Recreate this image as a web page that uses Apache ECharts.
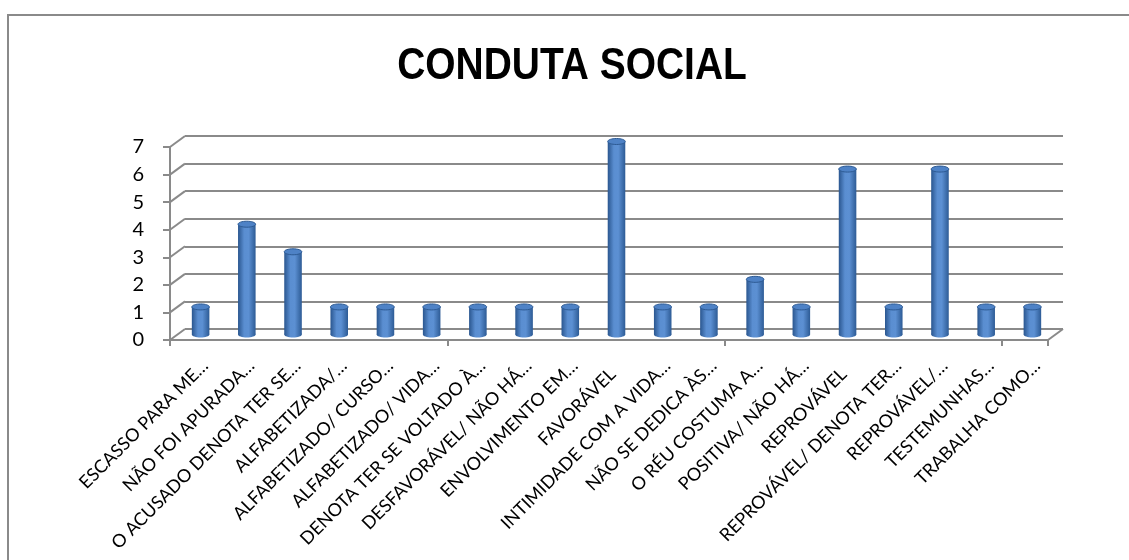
<!DOCTYPE html>
<html><head><meta charset="utf-8">
<script src="https://cdn.jsdelivr.net/npm/echarts@6/dist/echarts.min.js"></script>
<style>html,body{margin:0;padding:0;background:#fff}#c{width:1129px;height:560px}</style>
</head><body><div id="c"></div>
<script>
const chartTitle = 'CONDUTA SOCIAL';
const categories = ['ESCASSO PARA ME…','NÃO FOI APURADA…','O ACUSADO DENOTA TER SE…','ALFABETIZADA/…','ALFABETIZADO/ CURSO…','ALFABETIZADO/ VIDA…','DENOTA TER SE VOLTADO À…','DESFAVORÁVEL/ NÃO HÁ…','ENVOLVIMENTO EM…','FAVORÁVEL','INTIMIDADE COM A VIDA…','NÃO SE DEDICA ÀS…','O RÉU COSTUMA A…','POSITIVA/ NÃO HÁ…','REPROVÁVEL','REPROVÁVEL/ DENOTA TER…','REPROVÁVEL/…','TESTEMUNHAS…','TRABALHA COMO…'];
const values = [1,4,3,1,1,1,1,1,1,7,1,1,2,1,6,1,6,1,1];
const yTicks = [0,1,2,3,4,5,6,7];

const GRAY = '#8a8a8a';
const labelFont = 'Lato, "Liberation Sans", sans-serif';
const chart = echarts.init(document.getElementById('c'));

const catData = categories.map(c => (c.endsWith('…')
  ? { value: c, textStyle: { padding: [0, 4, 0, 0] } }
  : { value: c, textStyle: { padding: [0, 16, 0, 0] } }));

const option = {
  backgroundColor: '#fff',
  animation: false,
  graphic: [
    { type: 'rect', z: -10, shape: { x: 8, y: 15, width: 1200, height: 600 }, style: { fill: 'none', stroke: GRAY, lineWidth: 2 } },
    { type: 'text', x: 572, y: 67, scaleX: 0.865, scaleY: 1, originX: 0, originY: 0,
      style: { text: chartTitle, fill: '#000', font: 'bold 45px "Liberation Sans", Arial, sans-serif', align: 'center', verticalAlign: 'middle' } }
  ],
  grid: [
    { left: 170, top: 147, width: 878, height: 193 },
    { left: 177.5, top: 141.5, width: 878, height: 193 },
    { left: 185, top: 136, width: 878, height: 193 }
  ],
  xAxis: [
    { gridIndex: 0, type: 'category', data: categories, axisLine: { show: true, lineStyle: { color: GRAY, width: 2 } },
      axisTick: { show: true, length: 6, lineStyle: { color: GRAY, width: 2 } }, axisLabel: { show: false }, splitLine: { show: false } },
    { gridIndex: 1, type: 'category', data: categories, show: false },
    { gridIndex: 2, type: 'category', data: catData, axisLine: { show: false }, axisTick: { show: false }, splitLine: { show: false },
      axisLabel: { show: true, interval: 0, rotate: 45, margin: 31, fontSize: 18, color: '#000', fontFamily: labelFont, hideOverlap: false } }
  ],
  yAxis: [
    { gridIndex: 0, type: 'value', min: 0, max: 7, interval: 1, axisLine: { show: true, lineStyle: { color: GRAY, width: 2 } },
      axisTick: { show: true, length: 7, lineStyle: { color: GRAY, width: 2 } }, splitLine: { show: false },
      axisLabel: { fontSize: 20, color: '#000', margin: 26, fontFamily: labelFont } },
    { gridIndex: 1, type: 'value', min: 0, max: 7, interval: 1, show: false, splitLine: { show: false } },
    { gridIndex: 2, type: 'value', min: 0, max: 7, interval: 1, axisLine: { show: false }, axisTick: { show: false },
      axisLabel: { show: false }, splitLine: { show: true, lineStyle: { color: GRAY, width: 2 } } }
  ],
  series: [
    {
      type: 'custom', xAxisIndex: 0, yAxisIndex: 0, silent: true, z: 1,
      data: yTicks.map(v => [0, v]),
      renderItem: function (params, api) {
        const cs = params.coordSys;
        const v = api.value(1);
        const y = api.coord([0, v])[1];
        const children = [{ type: 'line', shape: { x1: cs.x, y1: y, x2: cs.x + 15, y2: y - 11 }, style: { stroke: GRAY, lineWidth: 2 } }];
        if (v === 0) {
          const xr = cs.x + cs.width;
          children.push({ type: 'line', shape: { x1: xr, y1: y, x2: xr + 15, y2: y - 11 }, style: { stroke: GRAY, lineWidth: 2 } });
        }
        return { type: 'group', children: children };
      }
    },
    {
      type: 'custom', xAxisIndex: 1, yAxisIndex: 1, z: 5,
      data: values.map((v, i) => [i, v]),
      renderItem: function (params, api) {
        const i = api.value(0), v = api.value(1);
        const top = api.coord([i, v]);
        const bot = api.coord([i, 0]);
        const w = api.size([1, 0])[0] * 0.38;
        const rx = w / 2, ry = 3;
        const cx = top[0];
        const grad = () => new echarts.graphic.LinearGradient(0, 0, 1, 0, [
          { offset: 0, color: '#2A568F' }, { offset: 0.35, color: '#5A8ED1' },
          { offset: 0.6, color: '#5C90D3' }, { offset: 1, color: '#2D5B95' }]);
        return {
          type: 'group', children: [
            { type: 'ellipse', shape: { cx: cx, cy: bot[1], rx: rx, ry: ry }, style: { fill: grad() } },
            { type: 'rect', shape: { x: cx - rx, y: top[1], width: w, height: bot[1] - top[1] }, style: { fill: grad() } },
            { type: 'ellipse', shape: { cx: cx, cy: top[1], rx: rx, ry: ry }, style: { fill: '#4E82C6', stroke: '#2D5A93', lineWidth: 1 } }
          ]
        };
      }
    }
  ]
};
chart.setOption(option);
</script>
</body></html>
